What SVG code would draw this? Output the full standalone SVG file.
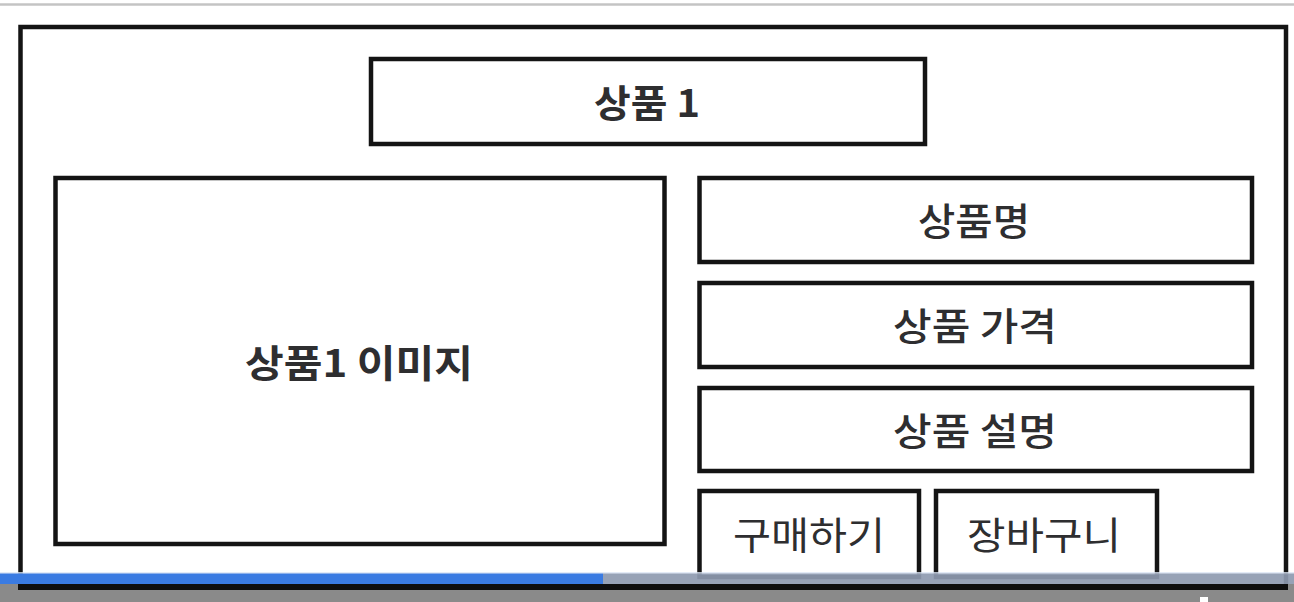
<svg xmlns="http://www.w3.org/2000/svg" width="1294" height="602" viewBox="0 0 1294 602">
  <style>
    .box { fill: #ffffff; stroke: #141414; stroke-width: 4.5; }
    .lbl { font-family: "Noto Sans CJK KR", "Noto Sans", "Liberation Sans", sans-serif; font-size: 38px; fill: #2e2e30; text-anchor: middle; dominant-baseline: central; }
    .b { font-weight: 700; }
    .m { font-weight: 500; }
  </style>
  <rect x="0" y="0" width="1294" height="602" fill="#ffffff"/>
  <line x1="0" y1="4.5" x2="1294" y2="4.5" stroke="#c4c4c4" stroke-width="2.5"/>

  <g id="frame">
    <rect class="box" x="20.5" y="27" width="1265.5" height="560" stroke-width="4.5"/>
  </g>

  <g id="title">
    <rect class="box" x="371" y="59" width="554" height="85"/>
    <text class="lbl b" x="647" y="100" textLength="106" lengthAdjust="spacingAndGlyphs">상품 1</text>
  </g>

  <g id="image">
    <rect class="box" x="55.5" y="178" width="609" height="366"/>
    <text class="lbl b" x="359" y="360" textLength="228" lengthAdjust="spacingAndGlyphs">상품1 이미지</text>
  </g>

  <g id="name">
    <rect class="box" x="699.5" y="178" width="552.5" height="84"/>
    <text class="lbl m" x="974" y="218" textLength="112" lengthAdjust="spacingAndGlyphs">상품명</text>
  </g>

  <g id="price">
    <rect class="box" x="699.5" y="283" width="552.5" height="84"/>
    <text class="lbl m" x="975" y="323" textLength="164" lengthAdjust="spacingAndGlyphs">상품 가격</text>
  </g>

  <g id="desc">
    <rect class="box" x="699.5" y="388" width="552.5" height="83"/>
    <text class="lbl m" x="975" y="428" textLength="164" lengthAdjust="spacingAndGlyphs">상품 설명</text>
  </g>

  <g id="buy">
    <rect class="box" x="699.5" y="491" width="219.5" height="86"/>
    <text class="lbl" x="809" y="532" textLength="152" lengthAdjust="spacingAndGlyphs">구매하기</text>
  </g>

  <g id="cart">
    <rect class="box" x="936" y="491" width="221" height="86"/>
    <text class="lbl" x="1044" y="532" textLength="154" lengthAdjust="spacingAndGlyphs">장바구니</text>
  </g>

  <g id="connectors"></g>

  <g id="player-bar">
    <rect x="0" y="572" width="1294" height="2.5" fill="#dce6f5" opacity="0.8"/>
    <rect x="0" y="573.5" width="603" height="10.5" fill="#3a7be2"/>
    <rect x="603" y="573.5" width="691" height="10.5" fill="#8e9ab0" opacity="0.92"/>
    <rect x="0" y="584" width="1294" height="18" fill="#8a8a8a"/>
    <rect x="18" y="584" width="1270" height="6" fill="#0e0e0e"/>
    <rect x="1200" y="597" width="8" height="5" fill="#ffffff"/>
  </g>
</svg>
